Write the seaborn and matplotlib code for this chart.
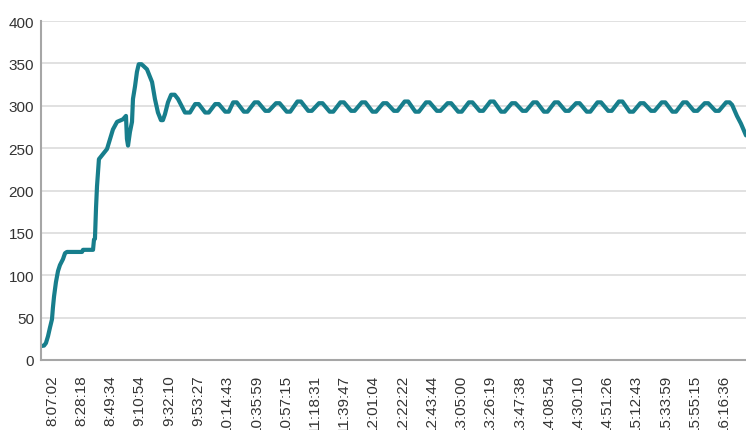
import matplotlib
matplotlib.use("Agg")
import matplotlib.pyplot as plt
import seaborn as sns
import pandas as pd

# elapsed minutes from 8:07:02 and the measured value
# warm-up phase
rise_minutes = [-8.0, -5.8, -4.4, -2.9, -1.5, 0.0, 0.7, 1.5, 2.9, 4.4, 5.8, 8.0, 9.5, 10.9,
                21.9, 22.6, 29.9, 30.6, 31.3, 32.1, 32.8, 33.5, 34.2, 37.2, 40.1, 42.3, 44.4,
                47.4, 51.7, 53.9, 54.6, 55.4, 56.8, 58.3, 59.0, 60.5, 61.9, 63.2, 65.2, 66.6,
                69.2, 72.9, 75.0, 77.2, 79.4, 80.8, 82.3, 84.5, 86.8, 89.4, 91.8, 96.9, 100.5,
                104.3, 106.9, 111.6, 114.2, 118.9, 121.5, 126.2, 128.8]
rise_values = [16.5, 17, 20, 28, 38, 48, 62, 75, 92, 105, 112, 119, 126, 127.5,
               127.5, 130, 130, 142, 143, 180, 205, 221, 237, 243, 249, 261, 272,
               281, 284, 288, 261, 253, 269, 281, 308, 323, 340, 349, 349, 347,
               343, 328, 308, 292, 283, 283, 290, 304, 313, 313, 308, 292, 292,
               302, 302, 292, 292, 302, 302, 293, 293]

# steady oscillation phase
steady_minutes = [132.0, 134.6, 139.8, 142.4, 147.6, 150.2, 155.4, 158.0, 163.2, 165.8,
                  171.0, 173.6, 178.8, 181.4, 186.7, 189.3, 194.5, 197.1, 202.3, 204.9,
                  210.1, 212.7, 217.9, 220.5, 225.7, 228.3, 233.5, 236.1, 241.3, 243.9,
                  249.1, 251.7, 256.9, 259.5, 264.7, 267.3, 272.5, 275.1, 280.4, 283.0,
                  288.2, 290.8, 295.9, 298.5, 303.7, 306.3, 311.5, 314.1, 319.3, 321.9,
                  327.2, 329.8, 335.0, 337.6, 342.8, 345.4, 350.6, 353.2, 358.4, 361.0,
                  366.2, 368.8, 374.0, 376.6, 381.8, 384.4, 389.6, 392.2, 397.4, 400.0,
                  405.2, 407.8, 413.0, 415.6, 420.8, 423.4, 428.6, 431.2, 436.4, 439.0,
                  444.2, 446.8, 452.0, 454.6, 459.8, 462.4, 467.6, 470.2, 475.5, 478.1,
                  483.3, 485.9, 491.1, 493.7]
steady_values = [304, 304, 293, 293, 304, 304, 294, 294, 303, 303,
                 293, 293, 305, 305, 294, 294, 303, 303, 293, 293,
                 304, 304, 294, 294, 304, 304, 293, 293, 303, 303,
                 294, 294, 305, 305, 293, 293, 304, 304, 294, 294,
                 303, 303, 293, 293, 304, 304, 294, 294, 305, 305,
                 293, 293, 303, 303, 294, 294, 304, 304, 293, 293,
                 304, 304, 294, 294, 303, 303, 293, 293, 304, 304,
                 294, 294, 305, 305, 293, 293, 303, 303, 294, 294,
                 304, 304, 293, 293, 304, 304, 294, 294, 303, 303,
                 294, 294, 304, 304]

# cool-down at the end
end_minutes = [495.5, 499.0, 501.9, 505.6]
end_values = [301, 288, 279, 265]

tick_labels = ["8:07:02", "8:28:18", "8:49:34", "9:10:54", "9:32:10", "9:53:27",
               "10:14:43", "10:35:59", "10:57:15", "11:18:31", "11:39:47", "12:01:04",
               "12:22:22", "12:43:44", "13:05:00", "13:26:19", "13:47:38", "14:08:54",
               "14:30:10", "14:51:26", "15:12:43", "15:33:59", "15:55:15", "16:16:36"]
y_ticks = [0, 50, 100, 150, 200, 250, 300, 350, 400]


def to_min(s):
    h, m, sec = (int(p) for p in s.split(":"))
    return h * 60 + m + sec / 60.0


base = to_min(tick_labels[0])
tick_pos = [to_min(s) - base for s in tick_labels]

minutes = rise_minutes + steady_minutes + end_minutes
values = rise_values + steady_values + end_values
df = pd.DataFrame({"minutes": minutes, "value": values})

sns.set_style("white")
plt.rcParams["font.family"] = ["Liberation Sans", "DejaVu Sans"]

fig = plt.figure(figsize=(7.46, 4.31), dpi=100)
ax = fig.add_axes([41 / 746, 1 - 361 / 431, 1 - 41 / 746, (361 - 22) / 431])

sns.lineplot(data=df, x="minutes", y="value", ax=ax, color="#177e8c",
             linewidth=3.0, solid_joinstyle="round", solid_capstyle="round")

ax.set_xlim(minutes[0], minutes[-1])
ax.set_ylim(0, 400)
ax.set_yticks(y_ticks)
ax.set_yticklabels([str(v) for v in y_ticks], fontsize=11, color="#333333")
ax.set_xticks(tick_pos)
ax.set_xticklabels(tick_labels, rotation=90, fontsize=11, color="#333333",
                   va="top", ha="center")
ax.tick_params(axis="x", length=0, pad=10)
ax.tick_params(axis="y", length=0, pad=5)
ax.set_xlabel("")
ax.set_ylabel("")

ax.yaxis.grid(True, color="#d9d9d9", linewidth=1.1)
ax.xaxis.grid(False)
ax.set_axisbelow(True)

for side in ["top", "right"]:
    ax.spines[side].set_visible(False)
for side in ["left", "bottom"]:
    ax.spines[side].set_color("#a6a6a6")
    ax.spines[side].set_linewidth(1.5)

fig.savefig("out.png", dpi=100)
